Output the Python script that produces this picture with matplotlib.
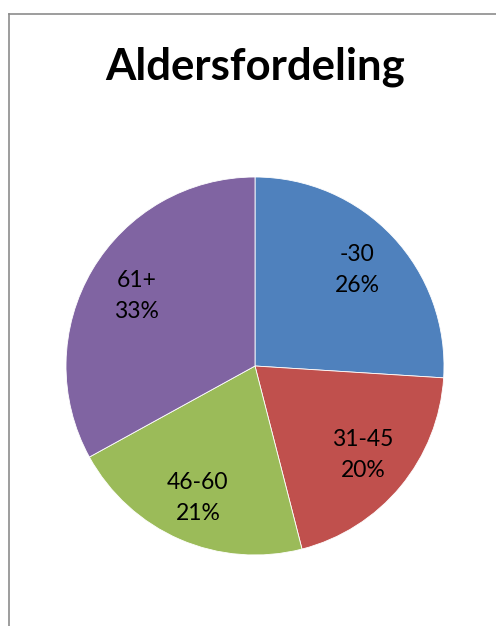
import matplotlib
matplotlib.use("Agg")
import matplotlib.pyplot as plt
import numpy as np
from matplotlib.lines import Line2D

title = "Aldersfordeling"
categories = ["-30", "31-45", "46-60", "61+"]
shares = [26, 20, 21, 33]
colors = ["#4F81BD", "#C0504D", "#9BBB59", "#8064A2"]
label_dist = [0.74, 0.74, 0.76, 0.73]

W, H, DPI = 496, 626, 100
fig = plt.figure(figsize=(W / DPI, H / DPI), dpi=DPI)
fig.patch.set_facecolor("white")

# chart-area border (top and left visible)
fig.add_artist(Line2D([8.5 / W, 8.5 / W], [0, 1 - 13.5 / H], transform=fig.transFigure,
                      color="#8c8c8c", lw=1.2))
fig.add_artist(Line2D([8.5 / W, 1], [1 - 13.5 / H, 1 - 13.5 / H], transform=fig.transFigure,
                      color="#8c8c8c", lw=1.2))

cx, cy, R = 255, 366, 189
ax = fig.add_axes([(cx - R) / W, (H - cy - R) / H, 2 * R / W, 2 * R / H])
wedges, _ = ax.pie(shares, colors=colors, startangle=90, counterclock=False,
                   radius=1.0, wedgeprops=dict(linewidth=0.6, edgecolor="white"))
ax.set_xlim(-1, 1)
ax.set_ylim(-1, 1)
ax.set_aspect("equal")
ax.axis("off")

for w, cat, s, d in zip(wedges, categories, shares, label_dist):
    ang = np.deg2rad((w.theta1 + w.theta2) / 2)
    ax.text(d * np.cos(ang), d * np.sin(ang), f"{cat}\n{s}%", ha="center", va="center",
            fontsize=16.5, family="Lato", linespacing=1.6, color="black")

fig.text(255 / W, 1 - 67 / H, title, ha="center", va="center", fontsize=31.5,
         fontweight="bold", family="Lato")

fig.savefig("out.png", dpi=DPI)
